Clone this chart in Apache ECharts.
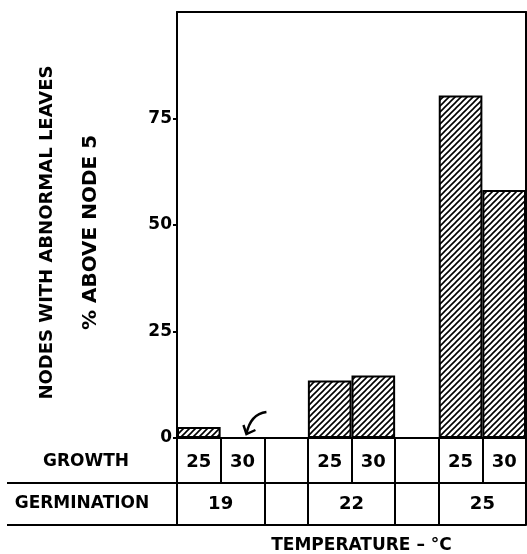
<!DOCTYPE html>
<html>
<head>
<meta charset="utf-8">
<script src="https://cdn.jsdelivr.net/npm/echarts@6/dist/echarts.min.js"></script>
<style>html,body{margin:0;padding:0;background:#fff}#c{width:527px;height:554px}</style>
</head>
<body>
<div id="c"></div>
<script>
// ---- data ----
const growthTemps = ['25', '30', '', '25', '30', '', '25', '30'];
const germinationTemps = ['19', '19', '', '22', '22', '', '25', '25'];
const abnormalPct = [2.6, 0, null, 13.5, 14.7, null, 80.4, 58.2];
const yTicks = [0, 25, 50, 75];
const yMax = 100;

// ---- derived germination groups ----
const germBounds = [], germCenters = [], germText = {};
(function () {
  let i = 0;
  germBounds.push(0);
  while (i < germinationTemps.length) {
    let j = i;
    while (j < germinationTemps.length && germinationTemps[j] === germinationTemps[i]) j++;
    if (germinationTemps[i] !== '') { germCenters.push((i + j) / 2); germText[(i + j) / 2] = germinationTemps[i]; }
    germBounds.push(j);
    i = j;
  }
})();

// hatch pattern
function hatch() {
  const s = 6, c = document.createElement('canvas');
  c.width = s; c.height = s;
  const g = c.getContext('2d');
  g.fillStyle = '#fff'; g.fillRect(0, 0, s, s);
  g.strokeStyle = '#000'; g.lineWidth = 1.6;
  g.beginPath();
  g.moveTo(-1, s + 1); g.lineTo(s + 1, -1);
  g.moveTo(-1, 1); g.lineTo(1, -1);
  g.moveTo(s - 1, s + 1); g.lineTo(s + 1, s - 1);
  g.stroke();
  return c;
}

const FONT = 'DejaVu Sans';
const ink = '#000';
const GROW_H = 45, GERM_H = 42;
const chart = echarts.init(document.getElementById('c'), null, { renderer: 'canvas' });
const lineStyle = { color: ink, width: 2 };

chart.setOption({
  animation: false,
  backgroundColor: '#fff',
  grid: { left: 177, right: 1, top: 12, bottom: 116, outerBoundsMode: 'none', containLabel: false },
  xAxis: [
    { type: 'category', data: growthTemps, position: 'bottom',
      axisLine: { onZero: false, lineStyle }, axisTick: { show: true, interval: 0, length: GROW_H, lineStyle },
      axisLabel: { interval: 0, margin: 15, color: ink, fontFamily: FONT, fontWeight: 'bold', fontSize: 18 } },
    { type: 'value', min: 0, max: growthTemps.length, position: 'bottom', offset: GROW_H,
      splitLine: { show: false },
      axisLine: { show: true, onZero: false, lineStyle },
      axisTick: { show: true, customValues: germBounds, length: GERM_H, lineStyle },
      axisLabel: { customValues: germCenters, formatter: v => germText[v] || '', margin: 12,
        color: ink, fontFamily: FONT, fontWeight: 'bold', fontSize: 18 } },
    { type: 'value', min: 0, max: growthTemps.length, position: 'bottom', offset: GROW_H + GERM_H,
      splitLine: { show: false }, axisLine: { show: true, onZero: false, lineStyle }, axisTick: { show: false }, axisLabel: { show: false },
      name: 'TEMPERATURE – °C', nameLocation: 'middle', nameGap: 12,
      nameTextStyle: { color: ink, fontFamily: FONT, fontWeight: 'bold', fontSize: 17, padding: [0, 0, 0, 20] } },
    { type: 'category', data: growthTemps, position: 'top',
      axisLine: { onZero: false, lineStyle }, axisTick: { show: false }, axisLabel: { show: false } }
  ],
  yAxis: [
    { type: 'value', min: 0, max: yMax, interval: 25, position: 'left',
      splitLine: { show: false },
      axisLine: { show: true, onZero: false, lineStyle },
      axisTick: { show: true, length: 4, customValues: yTicks, lineStyle },
      axisLabel: { margin: 5, customValues: yTicks, color: ink, fontFamily: FONT, fontWeight: 'bold', fontSize: 17 },
      name: '{a|NODES WITH ABNORMAL LEAVES}\n{b|% ABOVE NODE 5}', nameLocation: 'middle', nameRotate: 90, nameGap: 64,
      nameTextStyle: { color: ink, fontFamily: FONT, fontWeight: 'bold', fontSize: 18, lineHeight: 44, align: 'center',
        padding: [0, 15, 0, 0],
        rich: {
          a: { color: ink, fontFamily: FONT, fontWeight: 'bold', fontSize: 18, lineHeight: 44 },
          b: { color: ink, fontFamily: FONT, fontWeight: 'bold', fontSize: 20, lineHeight: 44 }
        } } },
    { type: 'value', min: 0, max: yMax, position: 'right', splitLine: { show: false },
      axisLine: { show: true, onZero: false, lineStyle }, axisTick: { show: false }, axisLabel: { show: false } }
  ],
  series: [{
    type: 'bar', xAxisIndex: 0, yAxisIndex: 0, data: abnormalPct,
    barWidth: '100%', barCategoryGap: '0%',
    itemStyle: { color: { image: hatch(), repeat: 'repeat' }, borderColor: ink, borderWidth: 2 }
  }]
});

// annotations: row labels, left extension lines and arrow (anchored to axis)
const o = chart.convertToPixel({ xAxisIndex: 0, yAxisIndex: 0 }, [0, 0]);
const a = chart.convertToPixel({ xAxisIndex: 0, yAxisIndex: 0 }, [1, 0]);
const y1 = o[1] + GROW_H, y2 = o[1] + GROW_H + GERM_H;
const txt = { fill: ink, font: 'bold 17px "' + FONT + '"', align: 'center', verticalAlign: 'middle' };
chart.setOption({
  graphic: [
    { type: 'line', shape: { x1: 7, y1: y1, x2: o[0], y2: y1 }, style: { stroke: ink, lineWidth: 2 } },
    { type: 'line', shape: { x1: 7, y1: y2, x2: o[0], y2: y2 }, style: { stroke: ink, lineWidth: 2 } },
    { type: 'text', x: 86, y: (o[1] + y1) / 2 + 1, style: Object.assign({ text: 'GROWTH' }, txt) },
    { type: 'text', x: 82, y: (y1 + y2) / 2, style: Object.assign({ text: 'GERMINATION' }, txt) },
    { type: 'bezierCurve', shape: { x1: a[0] + 24, y1: o[1] - 26, cpx1: a[0] + 8, cpy1: o[1] - 24, x2: a[0] + 4, y2: o[1] - 4 },
      style: { stroke: ink, lineWidth: 2.4, fill: null } },
    { type: 'polyline', shape: { points: [[a[0] + 1, o[1] - 13], [a[0] + 4, o[1] - 4], [a[0] + 13, o[1] - 8]] },
      style: { stroke: ink, lineWidth: 2.4, fill: null } }
  ]
});
</script>
</body>
</html>
